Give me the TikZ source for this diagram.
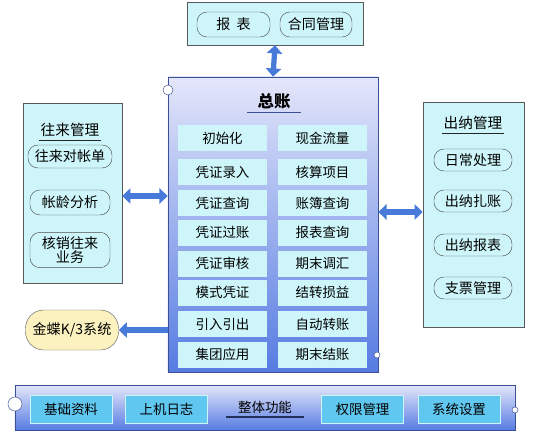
\documentclass[tikz,border=0pt]{standalone}
\usepackage{fontspec}
\setmainfont{Noto Sans CJK SC}
\definecolor{PanelCyan}{RGB}{206,246,250}
\definecolor{BarCyan}{RGB}{96,200,240}
\definecolor{LinkBlue}{RGB}{72,122,218}
\definecolor{ShadeTop}{RGB}{228,230,250}
\definecolor{ShadeBottom}{RGB}{86,124,226}
\definecolor{EdgeBlue}{RGB}{60,80,150}
\definecolor{NoteYellow}{RGB}{252,242,192}
\usetikzlibrary{arrows.meta,positioning}

\begin{document}
\begin{tikzpicture}[
    x=0.03cm, y=-0.03cm,
    panel/.style={draw=black!65, fill=PanelCyan, rectangle, thin},
    shadepanel/.style={draw=EdgeBlue, semithick, top color=ShadeTop, bottom color=ShadeBottom},
    pill/.style={draw=black!70, thin, rounded corners=3mm, minimum height=0.69cm, font=\fontsize{12}{13.5}\selectfont, inner xsep=2pt, align=center},
    cell/.style={fill=PanelCyan, minimum width=2.67cm, minimum height=0.78cm, font=\fontsize{11.5}{13}\selectfont},
    barcell/.style={fill=BarCyan, draw=PanelCyan, minimum width=2.46cm, minimum height=0.84cm, font=\fontsize{11.5}{13}\selectfont},
    ttl/.style={font=\fontsize{12.5}{14}\selectfont, inner ysep=2.5pt, inner xsep=1pt},
    uline/.style={fill=black!85},
    biarr/.style={{Triangle[length=7pt,width=13pt]}-{Triangle[length=7pt,width=13pt]}, line width=4.5pt, LinkBlue},
    arr/.style={-{Triangle[length=7pt,width=13pt]}, line width=4.5pt, LinkBlue},
    handle/.style={draw=EdgeBlue, fill=white, thin}
]
    \useasboundingbox (0,0) rectangle (535,446);

    % report box on top
    \node[panel, minimum width=5.28cm, minimum height=1.29cm] (rpt) at (275,23.5) {};
    \node[pill, minimum width=2.19cm, minimum height=0.75cm] (rptsheet) at (233.5,24.5) {报\ \ 表};
    \node[pill, minimum width=2.16cm, minimum height=0.75cm] (contract) at (316,24.5) {合同管理};

    % general ledger
    \node[shadepanel, minimum width=6.3cm, minimum height=8.85cm] (gl) at (273,224.5) {};
    \node[ttl, font=\fontsize{14}{16}\selectfont\bfseries, inner xsep=9pt] (gltitle) at (274,101) {总账};
    \fill[uline, EdgeBlue] (gltitle.south west) rectangle ([yshift=-1.2pt]gltitle.south east);
    \foreach \y/\lt/\rt in {138/初始化/现金流量, 172/凭证录入/核算项目, 203/凭证查询/账簿查询,
        232.5/凭证过账/报表查询, 263.5/凭证审核/期末调汇, 292.5/模式凭证/结转损益,
        324/引入引出/自动转账, 354.5/集团应用/期末结账} {
        \node[cell] at (222.5,\y) {\lt};
        \node[cell] at (322.5,\y) {\rt};
    }
    \draw[handle] (168,90) circle (5);
    \draw[handle] (377,355) circle (3);

    % receivables and payables
    \node[panel, minimum width=2.97cm, minimum height=5.4cm] (arap) at (72.5,193) {};
    \node[ttl] (araptitle) at (70,130) {往来管理};
    \fill[uline] (araptitle.south west) rectangle ([yshift=-1pt]araptitle.south east);
    \node[pill, minimum width=2.52cm] (recon) at (70,156.5) {往来对帐单};
    \node[pill, minimum width=2.4cm, minimum height=0.75cm] (aging) at (70,202.5) {帐龄分析};
    \node[pill, minimum width=2.4cm, minimum height=0.96cm, font=\fontsize{12}{12.5}\selectfont] (writeoff) at (70,250) {核销往来\\业务};

    % cashier
    \node[panel, minimum width=3.03cm, minimum height=6.75cm] (cash) at (473.5,214.5) {};
    \node[ttl] (cashtitle) at (473,123) {出纳管理};
    \fill[uline] (cashtitle.south west) rectangle ([yshift=-1pt]cashtitle.south east);
    \node[pill, minimum width=2.34cm, minimum height=0.66cm] (daily) at (473,160) {日常处理};
    \node[pill, minimum width=2.34cm, minimum height=0.66cm] (close) at (473,201) {出纳扎账};
    \node[pill, minimum width=2.34cm, minimum height=0.66cm] (cashrpt) at (473,245) {出纳报表};
    \node[pill, minimum width=2.34cm, minimum height=0.66cm] (cheque) at (473,288) {支票管理};

    % kingdee K/3
    \node[pill, fill=NoteYellow, draw=black!60, rounded corners=5.5mm, minimum width=2.79cm, minimum height=1.2cm] (k3) at (72,330) {金蝶K/3系统};

    % overall functions
    \node[shadepanel, minimum width=15cm, minimum height=1.35cm] (bar) at (265,407.5) {};
    \node[barcell] (basic) at (71,409) {基础资料};
    \node[barcell] (log) at (166.5,409) {上机日志};
    \node[ttl, font=\fontsize{11.5}{13}\selectfont, inner xsep=10pt] (bartitle) at (265,407) {整体功能};
    \fill[uline, EdgeBlue!60!black] (bartitle.south west) rectangle ([yshift=-1.2pt]bartitle.south east);
    \node[barcell] (rights) at (362.5,409) {权限管理};
    \node[barcell] (setup) at (459,409) {系统设置};
    \draw[handle] (15,404) circle (7);
    \draw[handle] (515,410) circle (3);

    % links
    \draw[biarr] (rpt.south) -- (gl.north);
    \draw[biarr] (arap.east |- 0,196) -- (gl.west |- 0,196);
    \draw[biarr] (cash.west |- 0,212) -- (gl.east |- 0,212);
    \draw[arr] (gl.west |- k3.east) -- (k3.east);
\end{tikzpicture}
\end{document}
